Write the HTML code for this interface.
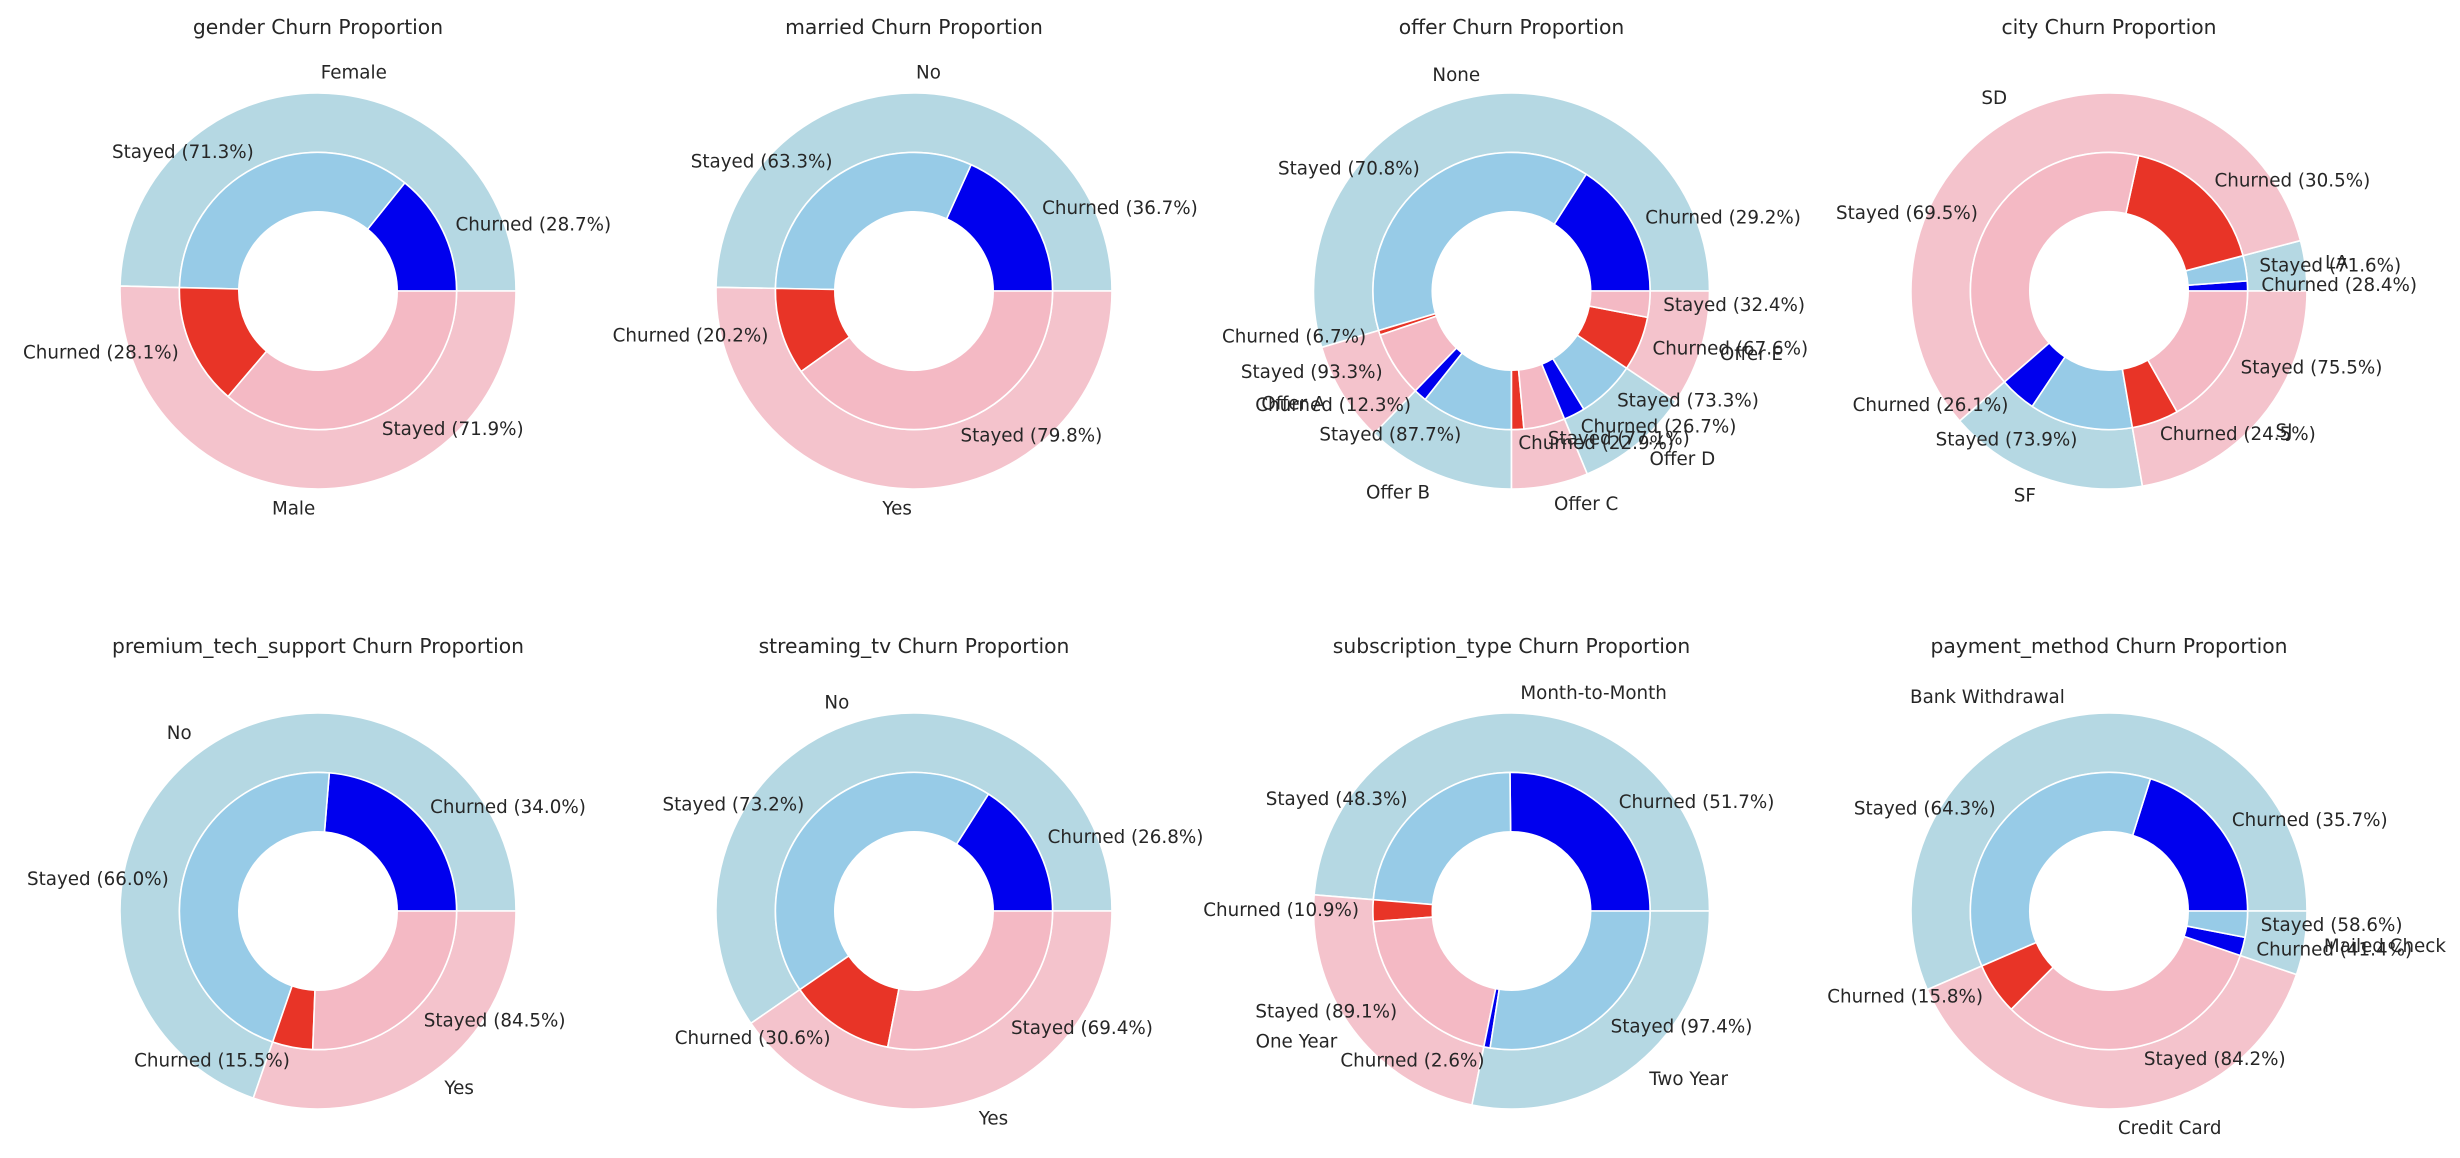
<!DOCTYPE html>
<html>
<head>
<meta charset="utf-8">
<style>
  html,body{margin:0;padding:0;background:#fff;}
  svg{display:block;}
  text{font-family:"DejaVu Sans","Liberation Sans",sans-serif;fill:#262626;}
</style>
</head>
<body>
<svg id="chart" width="2460" height="1158" viewBox="0 0 2460 1158" xmlns="http://www.w3.org/2000/svg"></svg>
<script>
// ---- data (category shares in %, churn rate within category in %) ----
const genderCats = ["Female", "Male"];
const genderShares = [49.6, 50.4];
const genderChurn = [28.7, 28.1];

const marriedCats = ["No", "Yes"];
const marriedShares = [49.7, 50.3];
const marriedChurn = [36.7, 20.2];

const offerCats = ["None", "Offer A", "Offer B", "Offer C", "Offer D", "Offer E"];
const offerShares = [54.6, 8.2, 12.2, 6.25, 9.35, 9.4];
const offerChurn = [29.2, 6.7, 12.3, 22.9, 26.7, 67.6];

const cityCats = ["LA", "SD", "SF", "SJ"];
const cityShares = [4.1, 57.3, 16.3, 22.3];
const cityChurn = [28.4, 30.5, 26.1, 24.5];

const techCats = ["No", "Yes"];
const techShares = [69.7, 30.3];
const techChurn = [34.0, 15.5];

const tvCats = ["No", "Yes"];
const tvShares = [59.6, 40.4];
const tvChurn = [26.8, 30.6];

const subCats = ["Month-to-Month", "One Year", "Two Year"];
const subShares = [48.7, 23.1, 28.2];
const subChurn = [51.7, 10.9, 2.6];

const payCats = ["Bank Withdrawal", "Credit Card", "Mailed Check"];
const payShares = [56.5, 38.3, 5.2];
const payChurn = [35.7, 15.8, 41.4];

const chartTitles = ["gender", "married", "offer", "city", "premium_tech_support", "streaming_tv", "subscription_type", "payment_method"];

// ---- rendering ----
const NS = "http://www.w3.org/2000/svg";
const svg = document.getElementById("chart");
const R = 198;
const colCx = [318, 914, 1511.5, 2109];
const rowCy = [291, 911];
const titleY = [27, 646];
const OUT_COL = ["#b5d8e3", "#f4c3cc"];
const IN_STAY = ["#97cbe7", "#f4b9c4"];
const IN_CHURN = ["#0000ee", "#e83427"];

function pt(cx, cy, r, a) {
  const t = a * Math.PI / 180;
  return [cx + r * Math.cos(t), cy - r * Math.sin(t)];
}
function wedge(cx, cy, ro, ri, a0, a1) {
  const large = (a1 - a0) > 180 ? 1 : 0;
  const p1 = pt(cx, cy, ro, a0), p2 = pt(cx, cy, ro, a1);
  const p3 = pt(cx, cy, ri, a1), p4 = pt(cx, cy, ri, a0);
  return `M${p1[0]},${p1[1]} A${ro},${ro} 0 ${large} 0 ${p2[0]},${p2[1]} L${p3[0]},${p3[1]} A${ri},${ri} 0 ${large} 1 ${p4[0]},${p4[1]} Z`;
}
function addPath(g, d, fill, name) {
  const p = document.createElementNS(NS, "path");
  p.setAttribute("d", d);
  p.setAttribute("fill", fill);
  p.setAttribute("stroke", "#ffffff");
  p.setAttribute("stroke-width", "1.6");
  p.setAttribute("stroke-linejoin", "round");
  
  
  g.appendChild(p);
}
function addLabel(g, cx, cy, r, a, str, name) {
  const p = pt(cx, cy, r, a);
  const t = document.createElementNS(NS, "text");
  t.setAttribute("x", p[0]);
  t.setAttribute("y", p[1]);
  t.setAttribute("font-size", "18.3");
  t.setAttribute("dominant-baseline", "central");
  t.setAttribute("text-anchor", Math.cos(a * Math.PI / 180) >= 0 ? "start" : "end");
  t.textContent = str;
  
  
  g.appendChild(t);
}

function drawChart(idx, cats, shares, churn) {
  const cx = colCx[idx % 4], cy = rowCy[Math.floor(idx / 4)];
  const g = document.createElementNS(NS, "g");
  
  
  svg.appendChild(g);
  const total = shares.reduce((s, v) => s + v, 0);
  const labels = [];
  let a = 0;
  cats.forEach((c, i) => {
    const span = shares[i] / total * 360;
    const a0 = a, a1 = a + span;
    addPath(g, wedge(cx, cy, R, R * 0.7, a0, a1), OUT_COL[i % 2], "outer-wedge-" + c.toLowerCase().replace(/\s+/g, "-"));
    labels.push([R * 1.1, (a0 + a1) / 2, c, "outer-label-" + c.toLowerCase().replace(/\s+/g, "-")]);
    const cSpan = span * churn[i] / 100;
    addPath(g, wedge(cx, cy, R * 0.7, R * 0.4, a0, a0 + cSpan), IN_CHURN[i % 2], "churned-wedge-" + c.toLowerCase().replace(/\s+/g, "-"));
    addPath(g, wedge(cx, cy, R * 0.7, R * 0.4, a0 + cSpan, a1), IN_STAY[i % 2], "stayed-wedge-" + c.toLowerCase().replace(/\s+/g, "-"));
    labels.push([R * 0.77, a0 + cSpan / 2, "Churned (" + churn[i].toFixed(1) + "%)", "churned-label-" + c.toLowerCase().replace(/\s+/g, "-")]);
    labels.push([R * 0.77, a0 + cSpan + (span - cSpan) / 2, "Stayed (" + (100 - churn[i]).toFixed(1) + "%)", "stayed-label-" + c.toLowerCase().replace(/\s+/g, "-")]);
    a = a1;
  });
  labels.forEach(l => addLabel(g, cx, cy, l[0], l[1], l[2], l[3]));
  const t = document.createElementNS(NS, "text");
  t.setAttribute("x", cx);
  t.setAttribute("y", titleY[Math.floor(idx / 4)]);
  t.setAttribute("font-size", "20.3");
  t.setAttribute("text-anchor", "middle");
  t.setAttribute("dominant-baseline", "central");
  t.textContent = chartTitles[idx] + " Churn Proportion";
  
  
  g.appendChild(t);
}

drawChart(0, genderCats, genderShares, genderChurn);
drawChart(1, marriedCats, marriedShares, marriedChurn);
drawChart(2, offerCats, offerShares, offerChurn);
drawChart(3, cityCats, cityShares, cityChurn);
drawChart(4, techCats, techShares, techChurn);
drawChart(5, tvCats, tvShares, tvChurn);
drawChart(6, subCats, subShares, subChurn);
drawChart(7, payCats, payShares, payChurn);
</script>
</body>
</html>
